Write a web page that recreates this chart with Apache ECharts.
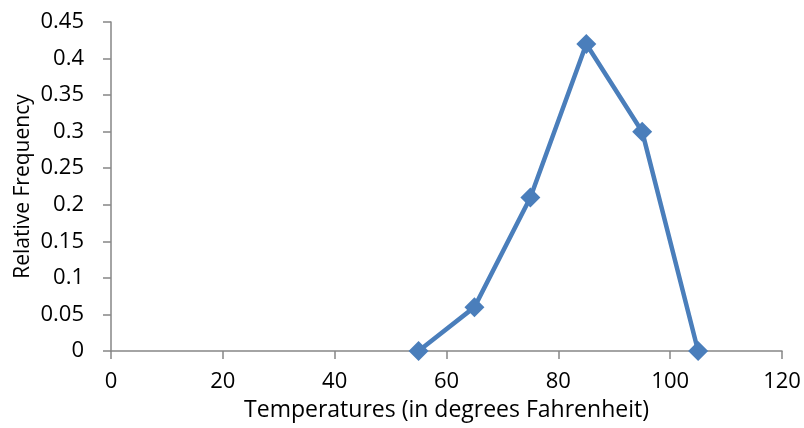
<!DOCTYPE html>
<html>
<head>
<meta charset="utf-8">
<script src="https://cdn.jsdelivr.net/npm/echarts@6/dist/echarts.min.js"></script>
<style>
  html, body { margin: 0; padding: 0; background: #fff; }
  #chart { width: 804px; height: 428px; }
</style>
</head>
<body>
<div id="chart"></div>
<script>
// Temperature midpoints (°F) and their relative frequencies
const temperatures = [55, 65, 75, 85, 95, 105];
const relFrequency = [0, 0.06, 0.21, 0.42, 0.30, 0];

const xTitle = 'Temperatures (in degrees Fahrenheit)';
const yTitle = 'Relative Frequency';

const FONT = '"Open Sans", "Liberation Sans", sans-serif';
const axisGrey = '#868686';

const chart = echarts.init(document.getElementById('chart'));
chart.setOption({
  animation: false,
  grid: { left: 111, right: 22, top: 22, bottom: 77, containLabel: false },
  xAxis: {
    type: 'value',
    min: 0, max: 120, interval: 20,
    name: xTitle,
    nameLocation: 'middle',
    nameGap: 48,
    nameMoveOverlap: false,
    nameTextStyle: { fontFamily: FONT, fontSize: 23, color: '#000' },
    axisLine: { show: true, onZero: false, lineStyle: { color: axisGrey, width: 1.5 } },
    axisTick: { show: true, inside: false, length: 8, lineStyle: { color: axisGrey, width: 1.5 } },
    axisLabel: { fontFamily: FONT, fontSize: 22, color: '#000', margin: 20 },
    splitLine: { show: false }
  },
  yAxis: {
    type: 'value',
    min: 0, max: 0.45, interval: 0.05,
    name: yTitle,
    nameLocation: 'middle',
    nameGap: 77,
    nameMoveOverlap: false,
    nameTextStyle: { fontFamily: FONT, fontSize: 21, color: '#000' },
    axisLine: { show: true, lineStyle: { color: axisGrey, width: 1.5 } },
    axisTick: { show: true, inside: false, length: 8, lineStyle: { color: axisGrey, width: 1.5 } },
    axisLabel: {
      fontFamily: FONT, fontSize: 22, color: '#000', margin: 27,
      formatter: v => String(parseFloat(v.toFixed(2)))
    },
    splitLine: { show: false }
  },
  series: [{
    type: 'line',
    data: temperatures.map((t, i) => [t, relFrequency[i]]),
    symbol: 'diamond',
    symbolSize: 20,
    lineStyle: { color: '#4a7ebb', width: 4.5 },
    itemStyle: { color: '#4a7ebb' },
    clip: false
  }]
});
</script>
</body>
</html>
